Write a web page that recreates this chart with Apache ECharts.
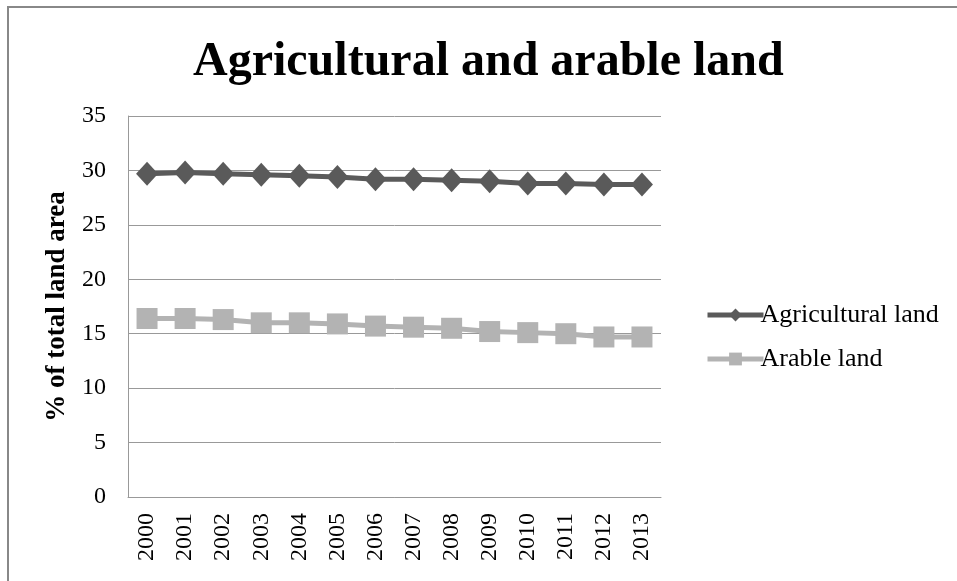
<!DOCTYPE html>
<html>
<head>
<meta charset="utf-8">
<script src="https://cdn.jsdelivr.net/npm/echarts@6/dist/echarts.min.js"></script>
<style>
  html, body { margin: 0; padding: 0; background: #fff; }
  #chart { width: 957px; height: 581px; }
</style>
</head>
<body>
<div id="chart"></div>
<script>
// years on the x axis
const years = ["2000", "2001", "2002", "2003", "2004", "2005", "2006",
  "2007", "2008", "2009", "2010", "2011", "2012", "2013"];
// % of total land area
const agricultural = [29.7, 29.8, 29.7, 29.6, 29.5, 29.4, 29.2, 29.2, 29.1, 29.0, 28.8, 28.8, 28.7, 28.7];
const arable = [16.4, 16.4, 16.3, 16.0, 16.0, 15.9, 15.7, 15.6, 15.5, 15.2, 15.1, 15.0, 14.7, 14.7];

const serif = "'Liberation Serif', 'Times New Roman', serif";

const chart = echarts.init(document.getElementById("chart"));
const option = {
  backgroundColor: "#fff",
  animation: false,
  graphic: [
    {
      // outer frame
      type: "rect",
      shape: { x: 8, y: 7, width: 960, height: 600 },
      style: { fill: "none", stroke: "#888", lineWidth: 2 },
    },
  ],
  title: {
    text: "Agricultural and arable land",
    left: 188,
    top: 34,
    textStyle: {
      fontFamily: serif,
      fontSize: 48,
      fontWeight: "bold",
      color: "#000",
    },
  },
  legend: {
    orient: "vertical",
    left: 700,
    top: 297,
    itemWidth: 56,
    itemHeight: 16,
    itemGap: 18,
    lineStyle: { width: 5 },
    textStyle: { fontFamily: serif, fontSize: 26, color: "#000", padding: [0, 0, 0, -8] },
  },
  grid: { left: 128, right: 296, top: 116, bottom: 84 },
  xAxis: {
    type: "category",
    data: years,
    axisLine: { show: true, lineStyle: { color: "#999", width: 1 } },
    axisTick: { show: false },
    axisLabel: {
      rotate: 90,
      margin: 16,
      fontFamily: serif,
      fontSize: 24,
      color: "#000",
    },
  },
  yAxis: {
    type: "value",
    min: 0,
    max: 35,
    interval: 5,
    name: "% of total land area",
    nameLocation: "middle",
    nameGap: 57,
    nameTextStyle: { fontFamily: serif, fontSize: 27, fontWeight: "bold", color: "#000" },
    axisLine: { show: true, lineStyle: { color: "#999", width: 1 } },
    axisTick: { show: false },
    splitLine: { lineStyle: { color: "#999", width: 1 } },
    axisLabel: { margin: 22, fontFamily: serif, fontSize: 24, color: "#000" },
  },
  series: [
    {
      name: "Agricultural land",
      type: "line",
      data: agricultural,
      symbol: "diamond",
      symbolSize: [22, 24],
      lineStyle: { color: "#5a5a5a", width: 5 },
      itemStyle: { color: "#5a5a5a" },
    },
    {
      name: "Arable land",
      type: "line",
      data: arable,
      symbol: "rect",
      symbolSize: [21, 21],
      lineStyle: { color: "#b3b3b3", width: 5 },
      itemStyle: { color: "#b3b3b3" },
    },
  ],
};
chart.setOption(option);
</script>
</body>
</html>
